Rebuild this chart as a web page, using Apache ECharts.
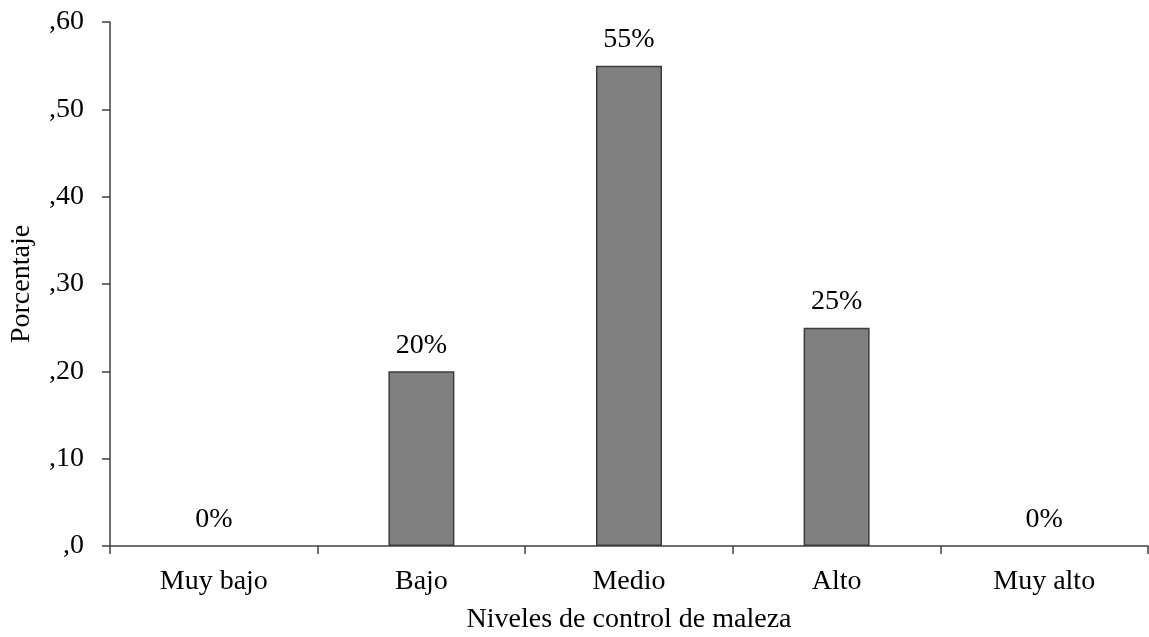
<!DOCTYPE html>
<html>
<head>
<meta charset="utf-8">
<script src="https://cdn.jsdelivr.net/npm/echarts@6/dist/echarts.min.js"></script>
<style>
  html, body { margin: 0; padding: 0; background: #ffffff; }
  #chart { width: 1149px; height: 637px; }
</style>
</head>
<body>
<div id="chart"></div>
<script>
// Niveles de control de maleza: proporción de respuestas por nivel
const categories = ['Muy bajo', 'Bajo', 'Medio', 'Alto', 'Muy alto'];
const proportions = [0, 0.20, 0.55, 0.25, 0];
const yTicks = [0, 0.1, 0.2, 0.3, 0.4, 0.5, 0.6];

const serif = '"Liberation Serif", "Times New Roman", serif';
const axisColor = '#404040';
const fs = 28;

// zero-height bars get no outline
const barData = proportions.map(v => ({
  value: v,
  itemStyle: v === 0 ? { borderWidth: 0 } : undefined
}));

const chart = echarts.init(document.getElementById('chart'));
chart.setOption({
  animation: false,
  backgroundColor: '#ffffff',
  grid: { left: 110, right: 1, top: 22, bottom: 91, containLabel: false, outerBoundsMode: 'none' },
  xAxis: {
    type: 'category',
    data: categories,
    name: 'Niveles de control de maleza',
    nameLocation: 'middle',
    nameGap: 60,
    nameTextStyle: { fontFamily: serif, fontSize: fs, color: '#000' },
    axisLine: { lineStyle: { color: axisColor, width: 1.5 } },
    axisTick: { show: true, alignWithLabel: false, length: 8, lineStyle: { color: axisColor, width: 1.5 } },
    axisLabel: { fontFamily: serif, fontSize: fs, color: '#000', margin: 22 }
  },
  yAxis: {
    type: 'value',
    min: yTicks[0],
    max: yTicks[yTicks.length - 1],
    interval: 0.1,
    name: 'Porcentaje',
    nameLocation: 'middle',
    nameGap: 74,
    nameTextStyle: { fontFamily: serif, fontSize: fs, color: '#000' },
    splitLine: { show: false },
    axisLine: { show: true, lineStyle: { color: axisColor, width: 1.5 } },
    axisTick: { show: true, length: 8, lineStyle: { color: axisColor, width: 1.5 } },
    axisLabel: {
      fontFamily: serif, fontSize: fs, color: '#000', margin: 26,
      formatter: v => v === 0 ? ',0' : ',' + Math.round(v * 100)
    }
  },
  series: [{
    type: 'bar',
    data: barData,
    barWidth: 66,
    itemStyle: { color: '#808080', borderColor: '#3c3c3c', borderWidth: 1.5 },
    label: {
      show: true,
      position: 'top',
      distance: 12,
      fontFamily: serif, fontSize: fs, color: '#000',
      formatter: p => Math.round(p.value * 100) + '%'
    }
  }]
});
</script>
</body>
</html>
